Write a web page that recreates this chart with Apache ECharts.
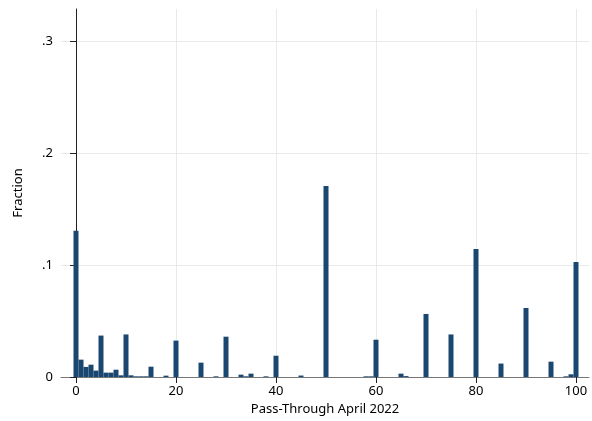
<!DOCTYPE html>
<html><head><meta charset="utf-8">
<script src="https://cdn.jsdelivr.net/npm/echarts@6/dist/echarts.min.js"></script>
<style>html,body{margin:0;padding:0;background:#fff}#c{width:592px;height:421px}</style>
</head><body><div id="c"></div>
<script>
// Histogram bins (centred on integer pass-through values, width 1)
const passThrough = [0,1,2,3,4,5,6,7,8,9,10,11,12,13,14,15,18,20,25,28,30,33,34,35,38,40,45,50,58,59,60,65,66,70,75,80,85,90,95,98,99,100];
const fraction    = [0.1305,0.0155,0.009,0.011,0.0057,0.037,0.0039,0.0039,0.0065,0.0015,0.038,0.0015,0.0006,0.0006,0.0006,0.0092,0.0012,0.0325,0.0128,0.0006,0.036,0.0021,0.0006,0.003,0.0006,0.019,0.0013,0.1705,0.0006,0.0006,0.0333,0.003,0.0008,0.0563,0.038,0.1143,0.012,0.0616,0.0137,0.0006,0.0024,0.1027];
const xTicks = [0,20,40,60,80,100];
const yTicks = [0,0.1,0.2,0.3];
const binWidth = 1;

const FONT = 'Noto Sans';
const FS = 13;
const barColor = '#1a476f';

const chart = echarts.init(document.getElementById('c'), null, {renderer:'canvas'});
const data = passThrough.map((x,i)=>[x, fraction[i]]);
const gridData = yTicks.filter(v=>v>0).map(v=>({yAxis:v})).concat(xTicks.map(v=>({xAxis:v})));

chart.setOption({
  animation:false,
  backgroundColor:'#fff',
  grid:{left:61, right:3, top:9, bottom:44, containLabel:false},
  xAxis:{
    type:'value', min:-3, max:102.6,
    name:'Pass-Through April 2022', nameLocation:'middle', nameGap:25,
    nameTextStyle:{fontFamily:FONT, fontSize:FS, color:'#000'},
    axisLine:{show:true, onZero:false, lineStyle:{color:'#777', width:1}},
    axisTick:{show:true, customValues:xTicks, length:6, lineStyle:{color:'#222', width:1}},
    axisLabel:{customValues:xTicks, margin:8, fontFamily:FONT, fontSize:FS, color:'#000'},
    splitLine:{show:false}
  },
  yAxis:{
    type:'value', min:0, max:0.3286,
    name:'Fraction', nameLocation:'middle', nameGap:36,
    nameTextStyle:{fontFamily:FONT, fontSize:FS, color:'#000'},
    axisLine:{show:true, lineStyle:{color:'#222', width:1}},
    axisTick:{show:true, customValues:yTicks, length:6, lineStyle:{color:'#222', width:1}},
    axisLabel:{customValues:yTicks, margin:8, fontFamily:FONT, fontSize:FS, color:'#000',
      formatter:v=> v===0 ? '0' : String(+v.toFixed(2)).replace(/^0/,'')},
    splitLine:{show:false}
  },
  series:[
    {
      type:'line', data:[], z:0, silent:true,
      markLine:{z:0, silent:true, symbol:['none','none'], label:{show:false},
        lineStyle:{color:'#e9e9e9', width:1, type:'solid'}, emphasis:{disabled:true},
        data:gridData}
    },
    {
      type:'custom', z:3, data:data,
      renderItem:function(params, api){
        const x = api.value(0), y = api.value(1);
        const p0 = api.coord([x - binWidth/2, 0]);
        const p1 = api.coord([x + binWidth/2, y]);
        return {type:'rect',
          shape:{x:p0[0], y:p1[1], width:p1[0]-p0[0], height:p0[1]-p1[1]},
          style:{fill:barColor}};
      }
    }
  ]
});
</script>
</body></html>
